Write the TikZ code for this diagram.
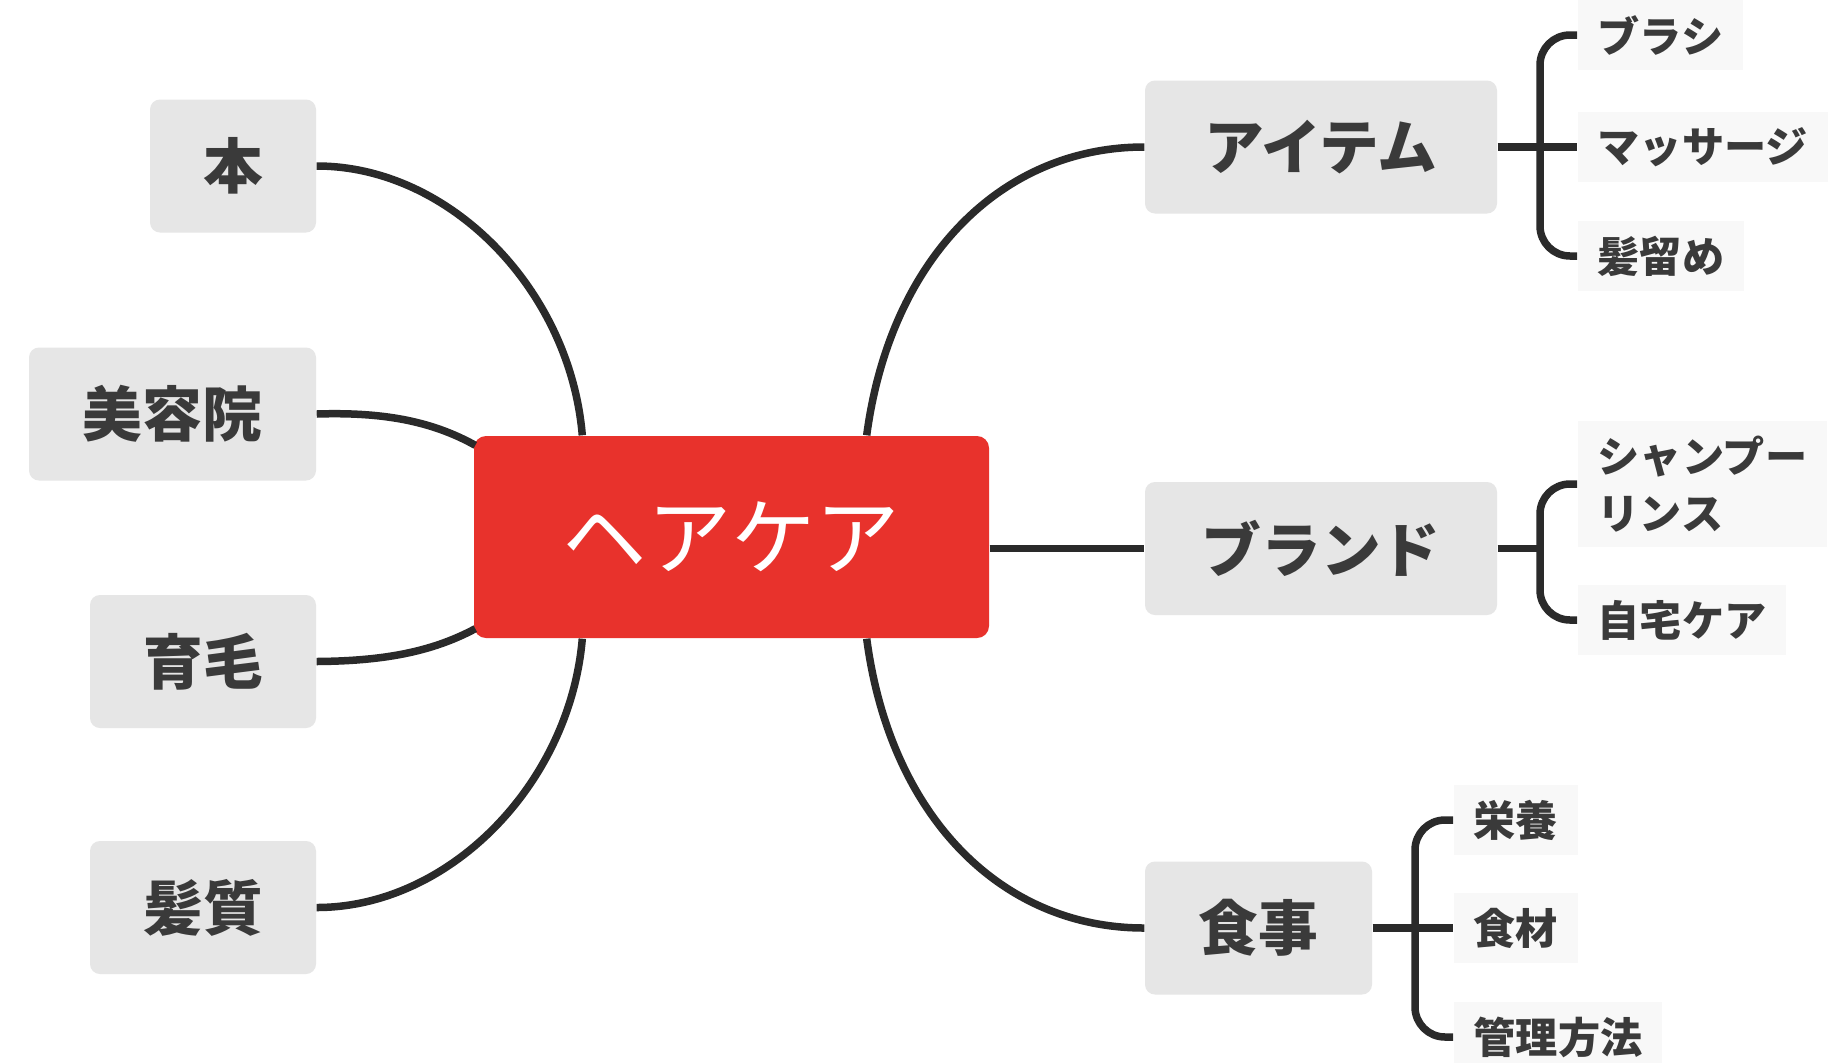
\documentclass[tikz,border=0pt]{standalone}
\usepackage{xcolor}
\usepackage{fontspec}
\setmainfont{Noto Sans CJK JP}
\usepackage{tikz}
\usetikzlibrary{calc}
\usetikzlibrary{positioning}
\definecolor{hairred}{HTML}{E8322C}
\definecolor{boxgray}{HTML}{E6E6E6}
\definecolor{leafgray}{HTML}{F8F8F8}
\definecolor{inkgray}{HTML}{3A3A3A}
\definecolor{linegray}{HTML}{2A2A2A}
\tikzstyle{topic} = [rectangle, rounded corners=0.1cm, fill=boxgray, text=inkgray, font=\fontsize{17}{20}\selectfont\bfseries, minimum height=1.33cm, inner sep=0pt]
\tikzstyle{hub} = [rectangle, rounded corners=0.12cm, fill=hairred, text=white, font=\fontsize{24}{28}\selectfont, minimum width=5.15cm, minimum height=2.02cm]
\tikzstyle{leaf} = [rectangle, anchor=west, fill=leafgray, text=inkgray, font=\fontsize{12}{16}\selectfont\bfseries, inner xsep=0.2cm, inner ysep=0.15cm, align=left]
\tikzstyle{link} = [-, line width=0.075cm, draw=linegray]

\begin{document}
\begin{tikzpicture}
\useasboundingbox [fill=white] (0,0) rectangle (18.36,-10.62);
\node [hub] (care) at (7.315,-5.37) {ヘアケア};
\node [topic, minimum width=1.66cm] (hon) at (2.33,-1.66) {本};
\node [topic, minimum width=2.87cm] (biyouin) at (1.725,-4.14) {美容院};
\node [topic, minimum width=2.26cm] (ikumou) at (2.03,-6.615) {育毛};
\node [topic, minimum width=2.26cm] (hashitsu) at (2.03,-9.075) {髪質};
\node [topic, minimum width=3.52cm] (item) at (13.21,-1.47) {アイテム};
\node [topic, minimum width=3.52cm] (brand) at (13.21,-5.485) {ブランド};
\node [topic, minimum width=2.27cm] (meal) at (12.585,-9.28) {食事};
\node [leaf] (brush) at (15.77,-0.35) {ブラシ};
\node [leaf] (massage) at (15.77,-1.47) {マッサージ};
\node [leaf] (clip) at (15.77,-2.56) {髪留め};
\node [leaf] (shampoo) at (15.77,-4.84) {シャンプー\\リンス};
\node [leaf] (home) at (15.77,-6.2) {自宅ケア};
\node [leaf] (eiyou) at (14.53,-8.2) {栄養};
\node [leaf] (shokuzai) at (14.53,-9.28) {食材};
\node [leaf] (kanri) at (14.53,-10.37) {管理方法};
\coordinate (careNW) at ($(care.north west)+(1.09,0)$);
\coordinate (careNE) at ($(care.north east)+(-1.23,0)$);
\coordinate (careSW) at ($(care.south west)+(1.09,0)$);
\coordinate (careSE) at ($(care.south east)+(-1.23,0)$);
\coordinate (careWN) at ($(care.north west)+(0.02,-0.1)$);
\coordinate (careWS) at ($(care.south west)+(0.02,0.1)$);
\coordinate (itembar) at (15.40,-1.47);
\coordinate (brandbar) at (15.40,-5.485);
\coordinate (mealbar) at (14.15,-9.28);
\draw [link] (hon.east) .. controls (4.5,-1.66) and (5.7,-2.9) .. (careNW);
\draw [link] (biyouin.east) .. controls (3.8,-4.12) and (4.3,-4.2) .. (careWN);
\draw [link] (ikumou.east) .. controls (3.8,-6.61) and (4.3,-6.53) .. (careWS);
\draw [link] (hashitsu.east) .. controls (4.5,-9.075) and (5.7,-7.83) .. (careSW);
\draw [link] (item.west) .. controls (10.0,-1.47) and (8.9,-2.6) .. (careNE);
\draw [link] (care.east |- brand.west) to (brand.west);
\draw [link] (meal.west) .. controls (10.0,-9.28) and (8.9,-8.15) .. (careSE);
\draw [link] (item.east) to (massage.west);
\draw [link, rounded corners=0.3cm] (brush.west) -| (itembar) |- (clip.west);
\draw [link] (brand.east) to (brandbar);
\draw [link, rounded corners=0.3cm] (shampoo.west) -| (brandbar) |- (home.west);
\draw [link] (meal.east) to (shokuzai.west);
\draw [link, rounded corners=0.3cm] (eiyou.west) -| (mealbar) |- (kanri.west);
\end{tikzpicture}
\end{document}
